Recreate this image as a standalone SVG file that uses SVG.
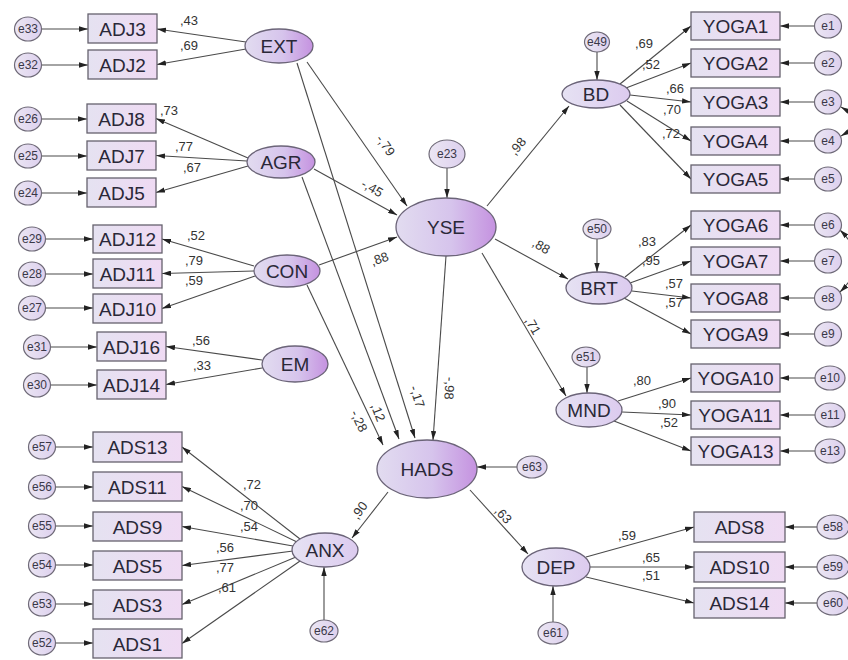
<svg xmlns="http://www.w3.org/2000/svg" width="848" height="660" viewBox="0 0 848 660">
<defs>
<linearGradient id="gL" x1="0" y1="0" x2="1" y2="0"><stop offset="0" stop-color="#e2dcf0"/><stop offset="0.55" stop-color="#d6c4ec"/><stop offset="1" stop-color="#c592e0"/></linearGradient>
<linearGradient id="gS" x1="0" y1="0" x2="1" y2="0"><stop offset="0" stop-color="#e6e2f3"/><stop offset="1" stop-color="#dccbef"/></linearGradient>
<linearGradient id="gR" x1="0" y1="0" x2="1" y2="0"><stop offset="0" stop-color="#e5e2f1"/><stop offset="1" stop-color="#efdaf3"/></linearGradient>
<linearGradient id="gE" x1="0" y1="0" x2="1" y2="0"><stop offset="0" stop-color="#ebe6f3"/><stop offset="1" stop-color="#ddd0ee"/></linearGradient>
<marker id="ah" viewBox="0 0 10 6" refX="10" refY="3" markerWidth="9" markerHeight="5.5" markerUnits="userSpaceOnUse" orient="auto-start-reverse"><path d="M0,0 L10,3 L0,6 z" fill="#222"/></marker>
</defs>
<style>
.c line,.c path{stroke:#4a4a4a;stroke-width:1.1;fill:none;marker-end:url(#ah)}
.c path.cov{marker-start:url(#ah)}
.lat{fill:url(#gL);stroke:#6b6478;stroke-width:1.3}
.sec{fill:url(#gS);stroke:#6b6478;stroke-width:1.3}
.obs{fill:url(#gR);stroke:#66626e;stroke-width:1.3}
.err{fill:url(#gE);stroke:#6f6a78;stroke-width:1.2}
.t{font-family:"Liberation Sans",Arial,sans-serif;font-size:19px;fill:#2a2838;text-anchor:middle}
.te{font-family:"Liberation Sans",Arial,sans-serif;font-size:12px;fill:#3a3848;text-anchor:middle}
.lb{font-family:"Liberation Sans",Arial,sans-serif;font-size:13px;fill:#333}
.lbm{font-family:"Liberation Sans",Arial,sans-serif;font-size:13px;fill:#333;text-anchor:middle}
</style>
<rect width="848" height="660" fill="#fff"/>
<g id="connectors" class="c">
<!-- error to indicator, left -->
<line x1="41.5" y1="29" x2="88" y2="29"/>
<line x1="41.5" y1="65" x2="88" y2="65"/>
<line x1="41.5" y1="119" x2="87" y2="119"/>
<line x1="41.5" y1="156" x2="87" y2="156"/>
<line x1="41.5" y1="193" x2="87" y2="193"/>
<line x1="45.5" y1="239" x2="93" y2="239"/>
<line x1="45.5" y1="274" x2="93" y2="274"/>
<line x1="45.5" y1="308" x2="93" y2="308"/>
<line x1="50.5" y1="347" x2="97" y2="347"/>
<line x1="50.5" y1="385" x2="97" y2="385"/>
<line x1="55.5" y1="447" x2="93" y2="447"/>
<line x1="55.5" y1="487" x2="93" y2="487"/>
<line x1="55.5" y1="526" x2="93" y2="526"/>
<line x1="55.5" y1="565" x2="93" y2="565"/>
<line x1="55.5" y1="604" x2="93" y2="604"/>
<line x1="55.5" y1="643" x2="93" y2="643"/>
<!-- error to indicator, right -->
<line x1="814.5" y1="26" x2="780" y2="26"/>
<line x1="814.5" y1="63" x2="780" y2="63"/>
<line x1="814.5" y1="102" x2="780" y2="102"/>
<line x1="814.5" y1="141" x2="780" y2="141"/>
<line x1="814.5" y1="179" x2="780" y2="179"/>
<line x1="814.5" y1="225" x2="780" y2="225"/>
<line x1="814.5" y1="261" x2="780" y2="261"/>
<line x1="814.5" y1="298" x2="780" y2="298"/>
<line x1="814.5" y1="334" x2="780" y2="334"/>
<line x1="815" y1="378" x2="780" y2="378"/>
<line x1="815" y1="415" x2="780" y2="415"/>
<line x1="815" y1="451" x2="780" y2="451"/>
<line x1="817" y1="527" x2="785" y2="527"/>
<line x1="817" y1="567" x2="785" y2="567"/>
<line x1="817" y1="603" x2="785" y2="603"/>
<!-- covariances -->
<path class="cov" d="M841,107 Q866,121.5 841,136"/>
<path class="cov" d="M840,230 Q872,261 840,292"/>
<!-- residuals to latents -->
<line x1="447" y1="168" x2="447" y2="198"/>
<line x1="597" y1="52" x2="597" y2="80"/>
<line x1="597" y1="239" x2="597" y2="272"/>
<line x1="587" y1="367" x2="587" y2="393"/>
<line x1="517" y1="467" x2="477" y2="467"/>
<line x1="324" y1="620" x2="324" y2="567"/>
<line x1="553" y1="622" x2="553" y2="586"/>
<!-- EXT -->
<line x1="246" y1="42" x2="157" y2="29"/>
<line x1="246" y1="49" x2="157" y2="64.5"/>
<!-- AGR -->
<line x1="248" y1="158" x2="156" y2="118.5"/>
<line x1="247" y1="161" x2="156" y2="155.5"/>
<line x1="248" y1="166" x2="156" y2="192.5"/>
<!-- CON -->
<line x1="254" y1="266" x2="162" y2="239"/>
<line x1="254" y1="271" x2="162" y2="273.5"/>
<line x1="255" y1="276" x2="162" y2="308.5"/>
<!-- EM -->
<line x1="262" y1="360" x2="166" y2="346.5"/>
<line x1="262" y1="368" x2="166" y2="384.5"/>
<!-- BD -->
<line x1="620" y1="84" x2="691" y2="26"/>
<line x1="626" y1="88" x2="691" y2="63"/>
<line x1="630" y1="95" x2="691" y2="102"/>
<line x1="627" y1="101" x2="691" y2="141"/>
<line x1="620" y1="105" x2="691" y2="179"/>
<!-- BRT -->
<line x1="625" y1="277" x2="691" y2="225"/>
<line x1="630" y1="283" x2="691" y2="261"/>
<line x1="632" y1="291" x2="691" y2="298"/>
<line x1="624" y1="298" x2="691" y2="334"/>
<!-- MND -->
<line x1="618" y1="401" x2="691" y2="378"/>
<line x1="622" y1="412" x2="691" y2="415"/>
<line x1="614" y1="421" x2="691" y2="451"/>
<!-- ANX -->
<line x1="300" y1="539" x2="182" y2="447"/>
<line x1="297" y1="542" x2="182" y2="486.5"/>
<line x1="293" y1="546" x2="182" y2="526.5"/>
<line x1="293" y1="551" x2="182" y2="565.5"/>
<line x1="296" y1="557" x2="182" y2="604.5"/>
<line x1="300" y1="561" x2="182" y2="643.5"/>
<!-- DEP -->
<line x1="586" y1="557" x2="694" y2="527"/>
<line x1="590" y1="567" x2="694" y2="567"/>
<line x1="586" y1="577" x2="694" y2="603"/>
<!-- structural -->
<line x1="307" y1="62" x2="407" y2="206"/>
<line x1="297" y1="63" x2="415" y2="438"/>
<line x1="314" y1="169" x2="397" y2="215"/>
<line x1="302" y1="177" x2="399" y2="439"/>
<line x1="319" y1="265" x2="397" y2="237"/>
<line x1="307" y1="285" x2="383" y2="445"/>
<line x1="446" y1="256" x2="433" y2="440"/>
<line x1="487" y1="206" x2="569" y2="106"/>
<line x1="495" y1="239" x2="568" y2="279"/>
<line x1="482" y1="253" x2="566" y2="396"/>
<line x1="388" y1="492" x2="352" y2="538"/>
<line x1="470" y1="490" x2="528" y2="554"/>
</g>
<g id="labels">
<text class="lb" x="180" y="25">,43</text>
<text class="lb" x="180" y="50">,69</text>
<text class="lb" x="160" y="115">,73</text>
<text class="lb" x="175" y="151">,77</text>
<text class="lb" x="183" y="172">,67</text>
<text class="lb" x="187" y="240">,52</text>
<text class="lb" x="185" y="265">,79</text>
<text class="lb" x="185" y="285">,59</text>
<text class="lb" x="192" y="345">,56</text>
<text class="lb" x="193" y="370">,33</text>
<text class="lb" x="635" y="48">,69</text>
<text class="lb" x="642" y="69">,52</text>
<text class="lb" x="666" y="93">,66</text>
<text class="lb" x="663" y="114">,70</text>
<text class="lb" x="662" y="138">,72</text>
<text class="lb" x="638" y="246">,83</text>
<text class="lb" x="642" y="265">,95</text>
<text class="lb" x="665" y="288">,57</text>
<text class="lb" x="665" y="307">,57</text>
<text class="lb" x="633" y="385">,80</text>
<text class="lb" x="658" y="408">,90</text>
<text class="lb" x="660" y="427">,52</text>
<text class="lb" x="243" y="489">,72</text>
<text class="lb" x="240" y="510">,70</text>
<text class="lb" x="240" y="531">,54</text>
<text class="lb" x="216" y="552">,56</text>
<text class="lb" x="216" y="572">,77</text>
<text class="lb" x="218" y="592">,61</text>
<text class="lb" x="618" y="540">,59</text>
<text class="lb" x="642" y="562">,65</text>
<text class="lb" x="642" y="580">,51</text>
<text class="lbm" transform="translate(382,148) rotate(55)">-,79</text>
<text class="lbm" transform="translate(370,192) rotate(30)">-,45</text>
<text class="lbm" transform="translate(381,263) rotate(-20)">,88</text>
<text class="lbm" transform="translate(521,149) rotate(-50)">,98</text>
<text class="lbm" transform="translate(539,250) rotate(30)">,88</text>
<text class="lbm" transform="translate(529,328) rotate(60)">,71</text>
<text class="lbm" transform="translate(445,388) rotate(94)">-,98</text>
<text class="lbm" transform="translate(413,398) rotate(72)">-,17</text>
<text class="lbm" transform="translate(374,414) rotate(69)">,12</text>
<text class="lbm" transform="translate(355,423) rotate(65)">-,28</text>
<text class="lbm" transform="translate(363,513) rotate(-54)">,90</text>
<text class="lbm" transform="translate(500,518) rotate(48)">,63</text>
</g>
<g id="EXT"><ellipse class="lat" cx="279" cy="46" rx="34" ry="17"/><text class="t" x="279" y="53">EXT</text></g>
<g id="AGR"><ellipse class="lat" cx="281" cy="162" rx="34" ry="16"/><text class="t" x="281" y="169">AGR</text></g>
<g id="CON"><ellipse class="lat" cx="287" cy="271" rx="33" ry="16"/><text class="t" x="287" y="278">CON</text></g>
<g id="EM"><ellipse class="lat" cx="295" cy="364" rx="33" ry="18"/><text class="t" x="295" y="371">EM</text></g>
<g id="YSE"><ellipse class="lat" cx="446" cy="227" rx="50" ry="29"/><text class="t" x="446" y="234">YSE</text></g>
<g id="HADS"><ellipse class="lat" cx="427" cy="469" rx="50" ry="29"/><text class="t" x="427" y="476">HADS</text></g>
<g id="BD"><ellipse class="sec" cx="596" cy="94" rx="34" ry="14"/><text class="t" x="596" y="101">BD</text></g>
<g id="BRT"><ellipse class="sec" cx="599" cy="288" rx="33" ry="16"/><text class="t" x="599" y="295">BRT</text></g>
<g id="MND"><ellipse class="sec" cx="589" cy="410" rx="33" ry="17"/><text class="t" x="589" y="417">MND</text></g>
<g id="ANX"><ellipse class="sec" cx="325" cy="550" rx="33" ry="17"/><text class="t" x="325" y="557">ANX</text></g>
<g id="DEP"><ellipse class="sec" cx="556" cy="567" rx="34" ry="19"/><text class="t" x="556" y="574">DEP</text></g>
<g id="ADJ3"><rect class="obs" x="88" y="14" width="69" height="29"/><text class="t" x="122.5" y="35.5">ADJ3</text></g>
<g id="ADJ2"><rect class="obs" x="88" y="50" width="69" height="29"/><text class="t" x="122.5" y="71.5">ADJ2</text></g>
<g id="ADJ8"><rect class="obs" x="87" y="104" width="69" height="29"/><text class="t" x="121.5" y="125.5">ADJ8</text></g>
<g id="ADJ7"><rect class="obs" x="87" y="141" width="69" height="29"/><text class="t" x="121.5" y="162.5">ADJ7</text></g>
<g id="ADJ5"><rect class="obs" x="87" y="178" width="69" height="29"/><text class="t" x="121.5" y="199.5">ADJ5</text></g>
<g id="ADJ12"><rect class="obs" x="93" y="225" width="69" height="28"/><text class="t" x="127.5" y="246">ADJ12</text></g>
<g id="ADJ11"><rect class="obs" x="93" y="259" width="69" height="29"/><text class="t" x="127.5" y="280.5">ADJ11</text></g>
<g id="ADJ10"><rect class="obs" x="93" y="294" width="69" height="29"/><text class="t" x="127.5" y="315.5">ADJ10</text></g>
<g id="ADJ16"><rect class="obs" x="97" y="332" width="69" height="29"/><text class="t" x="131.5" y="353.5">ADJ16</text></g>
<g id="ADJ14"><rect class="obs" x="97" y="370" width="69" height="29"/><text class="t" x="131.5" y="391.5">ADJ14</text></g>
<g id="ADS13"><rect class="obs" x="93" y="432" width="89" height="30"/><text class="t" x="137.5" y="454">ADS13</text></g>
<g id="ADS11"><rect class="obs" x="93" y="472" width="89" height="29"/><text class="t" x="137.5" y="493.5">ADS11</text></g>
<g id="ADS9"><rect class="obs" x="93" y="512" width="89" height="29"/><text class="t" x="137.5" y="533.5">ADS9</text></g>
<g id="ADS5"><rect class="obs" x="93" y="551" width="89" height="29"/><text class="t" x="137.5" y="572.5">ADS5</text></g>
<g id="ADS3"><rect class="obs" x="93" y="590" width="89" height="29"/><text class="t" x="137.5" y="611.5">ADS3</text></g>
<g id="ADS1"><rect class="obs" x="93" y="629" width="89" height="29"/><text class="t" x="137.5" y="650.5">ADS1</text></g>
<g id="YOGA1"><rect class="obs" x="691" y="12" width="89" height="28"/><text class="t" x="735.5" y="33">YOGA1</text></g>
<g id="YOGA2"><rect class="obs" x="691" y="49" width="89" height="28"/><text class="t" x="735.5" y="70">YOGA2</text></g>
<g id="YOGA3"><rect class="obs" x="691" y="88" width="89" height="28"/><text class="t" x="735.5" y="109">YOGA3</text></g>
<g id="YOGA4"><rect class="obs" x="691" y="127" width="89" height="28"/><text class="t" x="735.5" y="148">YOGA4</text></g>
<g id="YOGA5"><rect class="obs" x="691" y="165" width="89" height="28"/><text class="t" x="735.5" y="186">YOGA5</text></g>
<g id="YOGA6"><rect class="obs" x="691" y="211" width="89" height="28"/><text class="t" x="735.5" y="232">YOGA6</text></g>
<g id="YOGA7"><rect class="obs" x="691" y="247" width="89" height="28"/><text class="t" x="735.5" y="268">YOGA7</text></g>
<g id="YOGA8"><rect class="obs" x="691" y="284" width="89" height="28"/><text class="t" x="735.5" y="305">YOGA8</text></g>
<g id="YOGA9"><rect class="obs" x="691" y="320" width="89" height="28"/><text class="t" x="735.5" y="341">YOGA9</text></g>
<g id="YOGA10"><rect class="obs" x="691" y="364" width="89" height="28"/><text class="t" x="735.5" y="385">YOGA10</text></g>
<g id="YOGA11"><rect class="obs" x="691" y="401" width="89" height="28"/><text class="t" x="735.5" y="422">YOGA11</text></g>
<g id="YOGA13"><rect class="obs" x="691" y="437" width="89" height="28"/><text class="t" x="735.5" y="458">YOGA13</text></g>
<g id="ADS8"><rect class="obs" x="694" y="512" width="91" height="30"/><text class="t" x="739.5" y="534">ADS8</text></g>
<g id="ADS10"><rect class="obs" x="694" y="552" width="91" height="30"/><text class="t" x="739.5" y="574">ADS10</text></g>
<g id="ADS14"><rect class="obs" x="694" y="588" width="91" height="30"/><text class="t" x="739.5" y="610">ADS14</text></g>
<g id="e33"><ellipse class="err" cx="28" cy="29" rx="13.5" ry="12"/><text class="te" x="28" y="33">e33</text></g>
<g id="e32"><ellipse class="err" cx="28" cy="65" rx="13.5" ry="12"/><text class="te" x="28" y="69">e32</text></g>
<g id="e26"><ellipse class="err" cx="28" cy="119" rx="13.5" ry="12"/><text class="te" x="28" y="123">e26</text></g>
<g id="e25"><ellipse class="err" cx="28" cy="156" rx="13.5" ry="12"/><text class="te" x="28" y="160">e25</text></g>
<g id="e24"><ellipse class="err" cx="28" cy="193" rx="13.5" ry="12"/><text class="te" x="28" y="197">e24</text></g>
<g id="e29"><ellipse class="err" cx="32" cy="239" rx="13.5" ry="12"/><text class="te" x="32" y="243">e29</text></g>
<g id="e28"><ellipse class="err" cx="32" cy="274" rx="13.5" ry="12"/><text class="te" x="32" y="278">e28</text></g>
<g id="e27"><ellipse class="err" cx="32" cy="308" rx="13.5" ry="12"/><text class="te" x="32" y="312">e27</text></g>
<g id="e31"><ellipse class="err" cx="37" cy="347" rx="13.5" ry="12"/><text class="te" x="37" y="351">e31</text></g>
<g id="e30"><ellipse class="err" cx="37" cy="385" rx="13.5" ry="12"/><text class="te" x="37" y="389">e30</text></g>
<g id="e57"><ellipse class="err" cx="42" cy="447" rx="13.5" ry="12"/><text class="te" x="42" y="451">e57</text></g>
<g id="e56"><ellipse class="err" cx="42" cy="487" rx="13.5" ry="12"/><text class="te" x="42" y="491">e56</text></g>
<g id="e55"><ellipse class="err" cx="42" cy="526" rx="13.5" ry="12"/><text class="te" x="42" y="530">e55</text></g>
<g id="e54"><ellipse class="err" cx="42" cy="565" rx="13.5" ry="12"/><text class="te" x="42" y="569">e54</text></g>
<g id="e53"><ellipse class="err" cx="42" cy="604" rx="13.5" ry="12"/><text class="te" x="42" y="608">e53</text></g>
<g id="e52"><ellipse class="err" cx="42" cy="643" rx="13.5" ry="12"/><text class="te" x="42" y="647">e52</text></g>
<g id="e1"><ellipse class="err" cx="828" cy="26" rx="13.5" ry="12"/><text class="te" x="828" y="30">e1</text></g>
<g id="e2"><ellipse class="err" cx="828" cy="63" rx="13.5" ry="12"/><text class="te" x="828" y="67">e2</text></g>
<g id="e3"><ellipse class="err" cx="828" cy="102" rx="13.5" ry="12"/><text class="te" x="828" y="106">e3</text></g>
<g id="e4"><ellipse class="err" cx="828" cy="141" rx="13.5" ry="12"/><text class="te" x="828" y="145">e4</text></g>
<g id="e5"><ellipse class="err" cx="828" cy="179" rx="13.5" ry="12"/><text class="te" x="828" y="183">e5</text></g>
<g id="e6"><ellipse class="err" cx="828" cy="225" rx="13.5" ry="12"/><text class="te" x="828" y="229">e6</text></g>
<g id="e7"><ellipse class="err" cx="828" cy="261" rx="13.5" ry="12"/><text class="te" x="828" y="265">e7</text></g>
<g id="e8"><ellipse class="err" cx="828" cy="298" rx="13.5" ry="12"/><text class="te" x="828" y="302">e8</text></g>
<g id="e9"><ellipse class="err" cx="828" cy="334" rx="13.5" ry="12"/><text class="te" x="828" y="338">e9</text></g>
<g id="e10"><ellipse class="err" cx="830" cy="378" rx="15" ry="12"/><text class="te" x="830" y="382">e10</text></g>
<g id="e11"><ellipse class="err" cx="830" cy="415" rx="15" ry="12"/><text class="te" x="830" y="419">e11</text></g>
<g id="e13"><ellipse class="err" cx="830" cy="451" rx="15" ry="12"/><text class="te" x="830" y="455">e13</text></g>
<g id="e58"><ellipse class="err" cx="833" cy="527" rx="16" ry="12"/><text class="te" x="833" y="531">e58</text></g>
<g id="e59"><ellipse class="err" cx="833" cy="567" rx="16" ry="12"/><text class="te" x="833" y="571">e59</text></g>
<g id="e60"><ellipse class="err" cx="833" cy="603" rx="16" ry="12"/><text class="te" x="833" y="607">e60</text></g>
<g id="e23"><ellipse class="err" cx="447" cy="154" rx="18" ry="14"/><text class="te" x="447" y="158">e23</text></g>
<g id="e49"><ellipse class="err" cx="597" cy="42" rx="12.5" ry="10"/><text class="te" x="597" y="46">e49</text></g>
<g id="e50"><ellipse class="err" cx="597" cy="229" rx="14" ry="10"/><text class="te" x="597" y="233">e50</text></g>
<g id="e51"><ellipse class="err" cx="586" cy="357" rx="14" ry="10"/><text class="te" x="586" y="361">e51</text></g>
<g id="e63"><ellipse class="err" cx="532" cy="467" rx="15" ry="11"/><text class="te" x="532" y="471">e63</text></g>
<g id="e62"><ellipse class="err" cx="324" cy="631" rx="14" ry="11"/><text class="te" x="324" y="635">e62</text></g>
<g id="e61"><ellipse class="err" cx="553" cy="633" rx="15" ry="11"/><text class="te" x="553" y="637">e61</text></g>
</svg>
